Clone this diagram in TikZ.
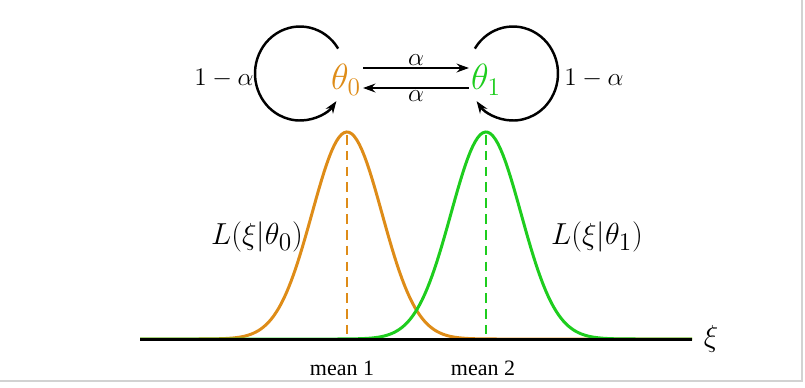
\documentclass[tikz,border=0pt]{standalone}
\usepackage{amsmath,amssymb}
\usepackage{fontspec}
\setmainfont{Liberation Serif}
\usetikzlibrary{arrows.meta,calc}

\definecolor{lorange}{RGB}{222,140,24}
\definecolor{lgreen}{RGB}{30,205,30}

\tikzset{
  state/.style={inner sep=1pt,font=\fontsize{22}{26}\selectfont},
  loopline/.style={black,line width=1.4pt,-{Stealth[length=7pt,width=5pt]}},
  jumpline/.style={black,line width=1.2pt,-{Stealth[length=7pt,width=5pt]}},
  prob/.style={inner sep=1pt,font=\fontsize{14}{16}\selectfont},
  curve/.style={line width=1.7pt},
  meanline/.style={line width=1.1pt,dash pattern=on 5.5pt off 3.5pt},
  tick/.style={inner sep=1pt,font=\fontsize{12.5}{14}\selectfont}
}

\begin{document}
\begin{tikzpicture}[x=0.02cm,y=0.02cm]
\useasboundingbox (0,0) rectangle (805,387);

% Parameters of the two likelihoods
\def\MuA{347}
\def\MuB{486}
\def\Sig{35}
\def\Amp{207}
\def\Base{48}

% Frame of the screenshot
\draw[gray!35,line width=0.8pt] (0,6) -- (802,6) -- (802,387);

% Markov chain on the two states
\node[state,text=lorange] (t0) at (346,307) {$\theta_0$};
\node[state,text=lgreen] (t1) at (486,307) {$\theta_1$};

\draw[jumpline] ([yshift=0.24cm]t0.east) -- node[prob,above] (a01) {$\alpha$} ([yshift=0.24cm]t1.west);
\draw[jumpline] ([yshift=-0.16cm]t1.west) -- node[prob,below] (a10) {$\alpha$} ([yshift=-0.16cm]t0.east);

\coordinate (c0) at (300,313.5);
\coordinate (c1) at (513,313.5);
\draw[loopline] ($(c0)+(32:45 and 47)$) arc[start angle=32,end angle=324,x radius=45,y radius=47];
\draw[loopline] ($(c1)+(148:45 and 47)$) arc[start angle=148,end angle=-144,x radius=45,y radius=47];
\node[prob] (s0) at (224,309) {$1-\alpha$};
\node[prob] (s1) at (594,309) {$1-\alpha$};

% Gaussian likelihoods
\draw[curve,lorange] plot[domain=140:692,samples=220] (\x,{\Base+\Amp*exp(-0.5*((\x-\MuA)/\Sig)^2)});
\draw[curve,lgreen] plot[domain=140:692,samples=220] (\x,{\Base+\Amp*exp(-0.5*((\x-\MuB)/\Sig)^2)});

\coordinate (p0) at (\MuA,252);
\coordinate (p1) at (\MuB,252);
\coordinate (m0) at (\MuA,\Base);
\coordinate (m1) at (\MuB,\Base);
\draw[meanline,lorange] (p0) -- (m0);
\draw[meanline,lgreen] (p1) -- (m1);

% Axis
\coordinate (xa) at (140,\Base);
\coordinate (xb) at (692,\Base);
\draw[black,line width=1.6pt] ([yshift=-0.4pt]xa) -- ([yshift=-0.4pt]xb);
\node[font=\fontsize{17}{19}\selectfont] (xi) at (711,\Base) {$\xi$};

\node[font=\fontsize{19}{22}\selectfont] (L0) at (257,150) {$L(\xi|\theta_0)$};
\node[font=\fontsize{19}{22}\selectfont] (L1) at (597,150) {$L(\xi|\theta_1)$};

\node[tick] (n0) at (342,19) {mean 1};
\node[tick] (n1) at (483,19) {mean 2};
\end{tikzpicture}
\end{document}
